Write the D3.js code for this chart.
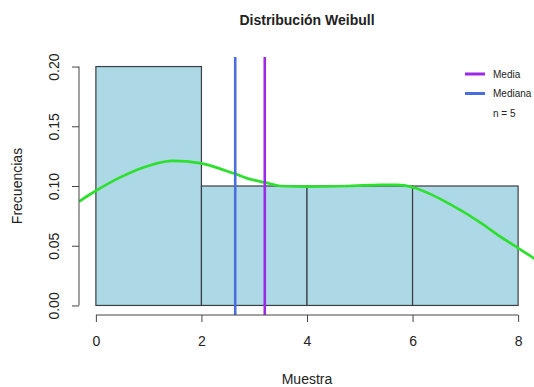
<!DOCTYPE html>
<html>
<head>
<meta charset="utf-8">
<script src="https://cdn.jsdelivr.net/npm/d3@7"></script>
<style>
 body { margin: 0; background: #fff; }
 text { font-family: "Liberation Sans", Arial, sans-serif; fill: #222; }
</style>
</head>
<body>
<svg width="534" height="387"></svg>
<script>
// Histogram bins (density scale) and the smoothed density line.

var binStart = [0, 2, 4, 6];
var binEnd = [2, 4, 6, 8];
var binDensity = [0.20, 0.10, 0.10, 0.10];

var densX = [-0.32, 0, 0.45, 1.0, 1.45, 2.0, 2.45, 2.65, 2.9, 3.2, 3.5, 4.0, 4.8, 5.4, 5.7, 6.0, 6.35, 6.7, 7.3, 7.65, 8.0, 8.32];
var densY = [0.087, 0.096, 0.107, 0.117, 0.121, 0.119, 0.113, 0.110, 0.106, 0.103, 0.100, 0.0995, 0.100, 0.101, 0.101, 0.099, 0.093, 0.085, 0.069, 0.058, 0.048, 0.039];

var media = 3.2;
var mediana = 2.64;
var n = 5;

var xTicks = [0, 2, 4, 6, 8];
var yTicks = [0, 0.05, 0.10, 0.15, 0.20];

// Plot region, like R's usr with 4% padding.

var svg = d3.select('svg');
var plot = {left: 79, right: 535, top: 57, bottom: 315};

var x = d3.scaleLinear()
 .domain([-0.32, 8.32])
 .range([plot.left, plot.right]);

var y = d3.scaleLinear()
 .domain([-0.008, 0.208])
 .range([plot.bottom, plot.top]);

svg.append('defs').append('clipPath').attr('id', 'clip')
 .append('rect')
 .attr('x', plot.left).attr('y', plot.top)
 .attr('width', plot.right - plot.left).attr('height', plot.bottom - plot.top);

// Bars.

svg.append('g')
 .selectAll('rect')
 .data(binDensity)
 .enter().append('rect')
 .attr('x', function(d, i) { return x(binStart[i]); })
 .attr('y', function(d) { return y(d); })
 .attr('width', function(d, i) { return x(binEnd[i]) - x(binStart[i]); })
 .attr('height', function(d) { return y(0) - y(d); })
 .attr('fill', '#add8e6')
 .attr('stroke', '#3a3f44')
 .attr('stroke-width', 1.2);

// Density curve.

var line = d3.line()
 .x(function(d, i) { return x(densX[i]); })
 .y(function(d) { return y(d); })
 .curve(d3.curveMonotoneX);

svg.append('path')
 .datum(densY)
 .attr('clip-path', 'url(#clip)')
 .attr('d', line)
 .attr('fill', 'none')
 .attr('stroke', '#2ee02e')
 .attr('stroke-width', 2.7);

// Mean and median lines.

svg.append('line')
 .attr('x1', x(media)).attr('x2', x(media))
 .attr('y1', plot.top).attr('y2', plot.bottom)
 .attr('stroke', '#9b2ae6').attr('stroke-width', 2.6);

svg.append('line')
 .attr('x1', x(mediana)).attr('x2', x(mediana))
 .attr('y1', plot.top).attr('y2', plot.bottom)
 .attr('stroke', '#4a6fdc').attr('stroke-width', 2.6);

// Axes.

var xAxis = svg.append('g')
 .attr('transform', 'translate(0,' + plot.bottom + ')')
 .call(d3.axisBottom(x).tickValues(xTicks).tickSize(7).tickPadding(14).tickSizeOuter(0));

xAxis.select('.domain').attr('d', 'M' + x(0) + ',0H' + x(8)).attr('stroke', '#444');
xAxis.selectAll('.tick line').attr('stroke', '#444');
xAxis.selectAll('.tick text').attr('font-size', 14).attr('fill', '#222');

var yAxis = svg.append('g')
 .attr('transform', 'translate(' + plot.left + ',0)')
 .call(d3.axisLeft(y).tickValues(yTicks).tickFormat(d3.format('.2f')).tickSize(7).tickSizeOuter(0));

yAxis.select('.domain').attr('d', 'M0,' + y(0) + 'V' + y(0.2)).attr('stroke', '#444');
yAxis.selectAll('.tick line').attr('stroke', '#444');
yAxis.selectAll('.tick text')
 .attr('font-size', 14)
 .attr('fill', '#222')
 .attr('text-anchor', 'middle')
 .attr('x', 0).attr('dy', 0)
 .attr('transform', 'translate(-24,0) rotate(-90)')
 .attr('y', 0)
 .attr('dominant-baseline', 'middle');

// Titles.

svg.append('text')
 .attr('x', (plot.left + plot.right) / 2).attr('y', 25)
 .attr('text-anchor', 'middle')
 .attr('font-size', 14).attr('font-weight', 'bold')
 .text('Distribución Weibull');

svg.append('text')
 .attr('x', (plot.left + plot.right) / 2).attr('y', 384)
 .attr('text-anchor', 'middle')
 .attr('font-size', 14)
 .text('Muestra');

svg.append('text')
 .attr('transform', 'translate(22,' + (plot.top + plot.bottom) / 2 + ') rotate(-90)')
 .attr('text-anchor', 'middle')
 .attr('font-size', 14)
 .text('Frecuencias');

// Legend.

var legendItems = [
 {label: 'Media', color: '#9b2ae6'},
 {label: 'Mediana', color: '#4a6fdc'},
 {label: 'n = ' + n, color: null}
];

var legend = svg.append('g').attr('transform', 'translate(465,74)');

legend.selectAll('line')
 .data(legendItems.filter(function(d) { return d.color; }))
 .enter().append('line')
 .attr('x1', 0).attr('x2', 20)
 .attr('y1', function(d, i) { return i * 19.5; })
 .attr('y2', function(d, i) { return i * 19.5; })
 .attr('stroke', function(d) { return d.color; })
 .attr('stroke-width', 3);

legend.selectAll('text')
 .data(legendItems)
 .enter().append('text')
 .attr('x', 28)
 .attr('y', function(d, i) { return i * 19.5 + 3.5; })
 .attr('font-size', 10)
 .text(function(d) { return d.label; });
</script>
</body>
</html>
